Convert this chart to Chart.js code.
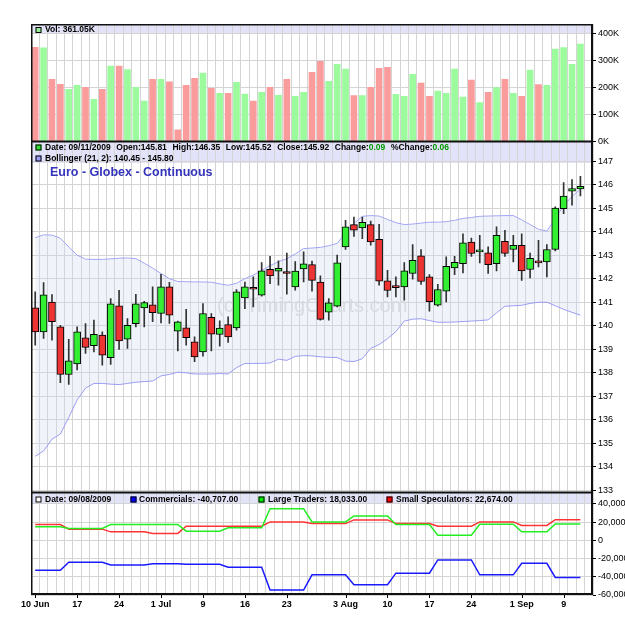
<!DOCTYPE html>
<html>
<head>
<meta charset="utf-8">
<script src="https://cdn.jsdelivr.net/npm/chart.js@4.4.1/dist/chart.umd.min.js"></script>
<style>
  html, body { margin: 0; padding: 0; background: #fff; }
  canvas { display: block; }
</style>
</head>
<body>
<canvas id="chart" width="625" height="623"></canvas>
<script>
// trading days shown on the chart
const dates = [
  '2009-06-10','2009-06-11','2009-06-12','2009-06-15','2009-06-16','2009-06-17','2009-06-18','2009-06-19','2009-06-22','2009-06-23',
  '2009-06-24','2009-06-25','2009-06-26','2009-06-29','2009-06-30','2009-07-01','2009-07-02','2009-07-06','2009-07-07','2009-07-08',
  '2009-07-09','2009-07-10','2009-07-13','2009-07-14','2009-07-15','2009-07-16','2009-07-17','2009-07-20','2009-07-21','2009-07-22',
  '2009-07-23','2009-07-24','2009-07-27','2009-07-28','2009-07-29','2009-07-30','2009-07-31','2009-08-03','2009-08-04','2009-08-05',
  '2009-08-06','2009-08-07','2009-08-10','2009-08-11','2009-08-12','2009-08-13','2009-08-14','2009-08-17','2009-08-18','2009-08-19',
  '2009-08-20','2009-08-21','2009-08-24','2009-08-25','2009-08-26','2009-08-27','2009-08-28','2009-08-31','2009-09-01','2009-09-02',
  '2009-09-03','2009-09-04','2009-09-08','2009-09-09','2009-09-10','2009-09-11'
];

const opens = [
  140.76,139.74,141.01,139.95,137.93,138.38,139.49,139.15,139.60,138.64,
  140.85,139.43,140.09,140.76,140.89,140.52,141.65,139.77,139.91,139.32,
  138.89,140.36,139.63,140.05,139.91,141.18,141.61,141.30,142.40,142.32,
  142.25,141.65,142.42,142.60,141.86,140.58,140.83,143.35,144.30,144.16,
  144.30,143.67,141.91,141.64,141.65,142.22,142.97,142.08,140.87,141.47,
  142.46,142.64,143.56,143.14,143.10,142.64,143.59,143.24,143.42,142.39,
  142.75,142.71,143.24,144.98,145.72,145.81
];
const highs = [
  141.44,141.84,141.33,140.02,139.42,139.95,140.09,140.24,139.74,141.16,
  141.51,140.31,141.34,141.04,141.65,142.19,141.85,140.20,140.70,139.53,
  140.94,140.52,140.21,140.38,141.54,141.86,142.08,142.68,142.95,142.76,
  143.09,142.73,143.14,142.75,142.12,141.16,143.00,144.48,144.62,144.62,
  144.45,144.31,142.36,142.08,142.68,143.45,143.24,142.18,141.76,142.93,
  142.95,143.91,143.73,143.84,143.35,144.20,144.06,143.84,143.91,143.09,
  143.63,143.45,145.05,146.08,146.21,146.35
];
const lows = [
  139.18,139.46,139.39,137.58,137.51,138.12,138.82,138.89,138.33,138.36,
  138.99,139.04,139.95,139.95,140.17,140.12,140.10,138.93,139.18,138.47,
  138.71,138.93,139.13,139.29,139.81,140.73,140.80,141.26,141.79,141.72,
  141.34,141.51,141.86,141.47,140.24,140.24,140.80,143.24,143.80,143.70,
  143.42,141.72,141.23,141.23,141.09,141.98,141.76,140.62,140.83,141.01,
  142.17,142.25,142.95,142.67,142.22,142.33,142.95,142.71,141.93,142.03,
  142.50,142.08,143.18,144.76,145.12,145.52
];
const closes = [
  139.74,141.31,140.17,137.93,138.51,139.74,139.08,139.64,138.75,140.93,
  139.36,140.02,140.93,140.99,140.56,141.65,140.45,140.17,139.49,138.68,
  140.52,139.64,139.90,139.53,141.44,141.65,141.55,142.33,142.12,142.44,
  142.22,142.32,142.63,141.93,140.27,140.97,142.67,144.20,144.06,144.40,
  143.56,141.89,141.50,141.62,142.33,142.78,141.88,141.02,141.54,142.53,
  142.70,143.52,143.07,143.21,142.60,143.84,143.07,143.42,142.33,142.87,
  142.67,143.24,145.00,145.51,145.83,145.92
];

// volume in thousands
const volume = [
  349,347,230,212,193,208,201,156,193,279,
  279,266,201,150,230,230,221,43,208,234,
  253,197,178,178,219,176,150,182,201,171,
  230,167,182,256,297,223,286,268,170,170,
  201,271,275,175,167,249,216,167,187,178,
  268,164,227,144,182,200,230,178,167,264,
  211,208,342,348,286,361.05
];

// Bollinger (21, 2)
const bollUpper = [
  143.74,143.86,143.85,143.72,143.35,143.00,142.83,142.82,142.82,142.84,
  142.87,142.88,142.85,142.66,142.45,142.22,142.00,141.88,141.87,141.86,
  141.86,141.85,141.78,141.72,141.80,142.00,142.15,142.35,142.55,142.72,
  142.85,143.05,143.28,143.30,143.33,143.40,143.50,143.95,144.35,144.65,
  144.68,144.66,144.52,144.38,144.30,144.32,144.36,144.40,144.40,144.42,
  144.48,144.56,144.60,144.65,144.66,144.67,144.68,144.68,144.50,144.30,
  144.10,144.02,144.55,145.10,145.50,145.80
];
const bollLower = [
  134.45,134.68,135.18,135.40,136.10,136.85,137.35,137.55,137.55,137.52,
  137.50,137.55,137.60,137.63,137.65,137.87,137.93,138.03,138.00,137.95,
  137.95,137.95,137.97,137.95,138.22,138.40,138.40,138.40,138.42,138.58,
  138.53,138.70,138.73,138.72,138.68,138.66,138.65,138.50,138.48,138.60,
  139.04,139.20,139.45,139.75,140.20,140.28,140.30,140.22,140.15,140.15,
  140.16,140.18,140.20,140.22,140.25,140.55,140.83,140.85,140.87,140.95,
  141.00,141.00,140.85,140.70,140.57,140.45
];

// commitments of traders, net positions
const commercials = [
  -32800,-32800,-32800,-32800,-24000,-24000,-24000,-24000,-24000,-27000,
  -27000,-27000,-27000,-27000,-25600,-25600,-25600,-25600,-26300,-26300,
  -26300,-26300,-26300,-29500,-29500,-29500,-29500,-29500,-54600,-54600,
  -54600,-54600,-54600,-37900,-37900,-37900,-37900,-37900,-48800,-48800,
  -48800,-48800,-48800,-36000,-36000,-36000,-36000,-36000,-21500,-21500,
  -21500,-21500,-21500,-37900,-37900,-37900,-37900,-37900,-25200,-25200,
  -25200,-25200,-40707,-40707,-40707,-40707
];
const largeTraders = [
  14800,14800,14800,14800,13000,13000,13000,13000,13000,17400,
  17400,17400,17400,17400,17400,17400,17400,17400,10100,10100,
  10100,10100,10100,13700,13700,13700,13700,13700,34800,34800,
  34800,34800,34800,20200,20200,20200,20200,20200,26800,26800,
  26800,26800,26800,17400,17400,17400,17400,17400,5700,5700,
  5700,5700,5700,17600,17600,17600,17600,17600,9300,9300,
  9300,9300,18033,18033,18033,18033
];
const smallSpecs = [
  17400,17400,17400,17400,12300,12300,12300,12300,12300,9300,
  9300,9300,9300,9300,7600,7600,7600,7600,15500,15500,
  15500,15500,15500,15500,15500,15500,15500,15500,20200,20200,
  20200,20200,20200,18400,18400,18400,18400,18400,22400,22400,
  22400,22400,22400,18400,18400,18400,18400,18400,15500,15500,
  15500,15500,15500,20200,20200,20200,20200,20200,16300,16300,
  16300,16300,22674,22674,22674,22674
];
const cotDate = '09/08/2009';

// axis labels
const tickDates = ['2009-06-10','2009-06-17','2009-06-24','2009-07-01','2009-07-09','2009-07-16','2009-07-23',
                   '2009-08-03','2009-08-10','2009-08-17','2009-08-24','2009-09-01','2009-09-09'];
const tickText = ['10 Jun','17','24','1 Jul','9','16','23','3 Aug','10','17','24','1 Sep','9'];
const volTicks = [0, 100, 200, 300, 400];
const priceTicks = [133,134,135,136,137,138,139,140,141,142,143,144,145,146,147];
const cotTicks = [-60000, -40000, -20000, 0, 20000, 40000];

const FONT = '"Liberation Sans", Arial, sans-serif';
const last = dates.length - 1;
const num = new Intl.NumberFormat('en-US');
const num2 = new Intl.NumberFormat('en-US', { minimumFractionDigits: 2, maximumFractionDigits: 2 });

const volColors = closes.map((c, i) =>
  (i === 0 ? c >= opens[0] : c >= closes[i - 1]) ? '#9cfb9c' : '#fb9c9c');
const bodyColors = closes.map((c, i) => c >= opens[i] ? '#33ee33' : '#ee3333');

function usDate(d) {
  const [y, m, dd] = d.split('-');
  return m + '/' + dd + '/' + y;
}

function icon(ctx, x, cy, color) {
  ctx.fillStyle = color;
  ctx.fillRect(x, cy - 3, 6, 6);
  ctx.strokeStyle = '#000';
  ctx.lineWidth = 1;
  ctx.strokeRect(x + 0.5, cy - 2.5, 5, 5);
}

function line(ctx, x1, y1, x2, y2) {
  ctx.beginPath();
  ctx.moveTo(x1, y1);
  ctx.lineTo(x2, y2);
  ctx.stroke();
}

const panelDecor = {
  id: 'panelDecor',
  beforeDraw(chart) {
    const { ctx, chartArea: a } = chart;
    const { yv, yp, yc } = chart.scales;
    ctx.save();
    ctx.fillStyle = '#e2e2f9';
    ctx.fillRect(a.left, yv.top, a.width, 10);
    ctx.fillRect(a.left, yp.top, a.width, 21.5);
    ctx.fillRect(a.left, yc.top, a.width, 11);
    ctx.restore();
  },
  beforeDatasetsDraw(chart) {
    const ctx = chart.ctx;
    ctx.save();
    ctx.font = '20px ' + FONT;
    ctx.fillStyle = '#dcdcdc';
    ctx.textBaseline = 'alphabetic';
    ctx.fillText('(c) TimingCharts.com', 217, 311.5);
    ctx.restore();
  },
  afterDraw(chart) {
    const { ctx, chartArea: a } = chart;
    const { x, yv, yp, yc } = chart.scales;
    ctx.save();

    // panel frames
    ctx.strokeStyle = '#111';
    ctx.lineWidth = 1.5;
    line(ctx, a.left + 0.75, a.top, a.left + 0.75, a.bottom);
    line(ctx, a.left, a.top + 0.75, a.right, a.top + 0.75);
    ctx.lineWidth = 2;
    line(ctx, a.right - 1, a.top, a.right - 1, a.bottom);
    line(ctx, a.left, a.bottom - 1, a.right, a.bottom - 1);
    line(ctx, a.left, yv.bottom, a.right, yv.bottom);
    line(ctx, a.left, yp.bottom, a.right, yp.bottom);

    // date tick marks
    ctx.lineWidth = 1;
    ctx.strokeStyle = '#000';
    tickDates.forEach(d => {
      const px = Math.round(x.getPixelForValue(dates.indexOf(d))) + 0.5;
      line(ctx, px, a.bottom, px, a.bottom + 3);
    });

    ctx.textBaseline = 'middle';
    ctx.textAlign = 'left';
    const bold = 'bold 8.5px ' + FONT;
    const put = (txt, tx, ty, color) => {
      ctx.fillStyle = color || '#000';
      ctx.fillText(txt, tx, ty);
      return tx + ctx.measureText(txt).width;
    };

    // volume header
    ctx.font = bold;
    let cy = yv.top + 6;
    icon(ctx, 35.5, cy, '#99ee99');
    put('Vol: ' + volume[last].toFixed(2) + 'K', 45, cy);

    // price header: pieces spread between x=45 and x=449
    cy = yp.top + 6;
    icon(ctx, 35.5, cy, '#33dd33');
    const chg = closes[last] - closes[last - 1];
    const pieces = [
      [['Date: ' + usDate(dates[last])]],
      [['Open:' + opens[last].toFixed(2)]],
      [['High:' + highs[last].toFixed(2)]],
      [['Low:' + lows[last].toFixed(2)]],
      [['Close:' + closes[last].toFixed(2)]],
      [['Change:'], [chg.toFixed(2), '#009a00']],
      [['%Change:'], [(chg / closes[last - 1] * 100).toFixed(2), '#009a00']]
    ];
    const widths = pieces.map(p => p.reduce((s, [t]) => s + ctx.measureText(t).width, 0));
    const gap = (449 - 45 - widths.reduce((s, w) => s + w, 0)) / (pieces.length - 1);
    let px = 45;
    pieces.forEach((p, k) => {
      let tx = px;
      p.forEach(([t, c]) => { tx = put(t, tx, cy, c); });
      px += widths[k] + gap;
    });

    cy = yp.top + 17;
    icon(ctx, 35.5, cy, '#9c9cf4');
    put('Bollinger (21, 2): ' + bollLower[last].toFixed(2) + ' - ' + bollUpper[last].toFixed(2), 45, cy);

    ctx.font = 'bold 12.5px ' + FONT;
    put('Euro - Globex - Continuous', 50, yp.top + 31.5, '#3333bb');

    // COT header
    ctx.font = bold;
    cy = yc.top + 7;
    icon(ctx, 35.5, cy, '#ffffff');
    put('Date: ' + cotDate, 45, cy);
    icon(ctx, 130.5, cy, '#0000ff');
    put('Commercials: ' + num2.format(commercials[last]), 139, cy);
    icon(ctx, 258.5, cy, '#00ee00');
    put('Large Traders: ' + num2.format(largeTraders[last]), 268, cy);
    icon(ctx, 386.5, cy, '#ff0000');
    put('Small Speculators: ' + num2.format(smallSpecs[last]), 396, cy);

    ctx.restore();
  }
};

const gridColor = '#d4d4d4';
const yAxis = (ticks, fmt, weight, stackWeight, min, max) => ({
  position: 'right',
  stack: 'panels',
  stackWeight,
  weight,
  min,
  max,
  border: { display: false },
  grid: { color: gridColor, tickColor: '#000', tickLength: 3 },
  ticks: { autoSkip: false, color: '#000', padding: 2, font: { family: FONT, size: 9 }, callback: fmt },
  afterBuildTicks: s => { s.ticks = ticks.map(v => ({ value: v })); },
  afterFit: s => { s.width = 32; }
});

new Chart(document.getElementById('chart').getContext('2d'), {
  type: 'bar',
  data: {
    labels: [...dates, ''],
    datasets: [
      {
        type: 'line', label: 'Upper', data: bollUpper, yAxisID: 'yp',
        borderColor: '#9c9cf4', borderWidth: 1, pointRadius: 0, fill: false, order: 6
      },
      {
        type: 'line', label: 'Lower', data: bollLower, yAxisID: 'yp',
        borderColor: '#9c9cf4', borderWidth: 1, pointRadius: 0,
        fill: '-1', backgroundColor: 'rgba(205,218,238,0.3)', order: 5
      },
      {
        label: 'Volume', data: volume, yAxisID: 'yv',
        backgroundColor: volColors, barThickness: 6, grouped: false, order: 4
      },
      {
        label: 'Range', data: lows.map((l, i) => [l, highs[i]]), yAxisID: 'yp',
        backgroundColor: '#333', barThickness: 1, grouped: false, order: 3
      },
      {
        label: 'Body', data: opens.map((o, i) => [o, closes[i]]), yAxisID: 'yp',
        backgroundColor: bodyColors, borderColor: '#000', borderWidth: 1, borderSkipped: false,
        barThickness: 7, minBarLength: 2, grouped: false, order: 2
      },
      {
        type: 'line', label: 'Commercials', data: commercials, yAxisID: 'yc',
        borderColor: '#1a1aff', borderWidth: 1.5, pointRadius: 0, fill: false, order: 1
      },
      {
        type: 'line', label: 'Large Traders', data: largeTraders, yAxisID: 'yc',
        borderColor: '#22ee22', borderWidth: 1.5, pointRadius: 0, fill: false, order: 1
      },
      {
        type: 'line', label: 'Small Speculators', data: smallSpecs, yAxisID: 'yc',
        borderColor: '#ff3333', borderWidth: 1.5, pointRadius: 0, fill: false, order: 1
      }
    ]
  },
  options: {
    responsive: false,
    animation: false,
    devicePixelRatio: 1,
    layout: { padding: { left: 31, top: 24, right: 0, bottom: 0 } },
    plugins: { legend: { display: false }, tooltip: { enabled: false } },
    scales: {
      x: {
        offset: true,
        border: { display: false },
        grid: { offset: true, color: gridColor, drawTicks: false },
        ticks: {
          autoSkip: false, maxRotation: 0, padding: 4, color: '#000',
          font: { family: FONT, size: 9, weight: 'bold' },
          callback: (v, i) => {
            const k = tickDates.indexOf(dates[i]);
            return k >= 0 ? tickText[k] : '';
          }
        },
        afterFit: s => { s.height = 28; }
      },
      yv: yAxis(volTicks, v => v + 'K', 1, 117.5, 0, 435),
      yp: yAxis(priceTicks, v => v, 2, 351, 132.915, 147.83),
      yc: yAxis(cotTicks, v => num.format(v), 3, 102.5, -60000, 52500)
    }
  },
  plugins: [panelDecor]
});
</script>
</body>
</html>
